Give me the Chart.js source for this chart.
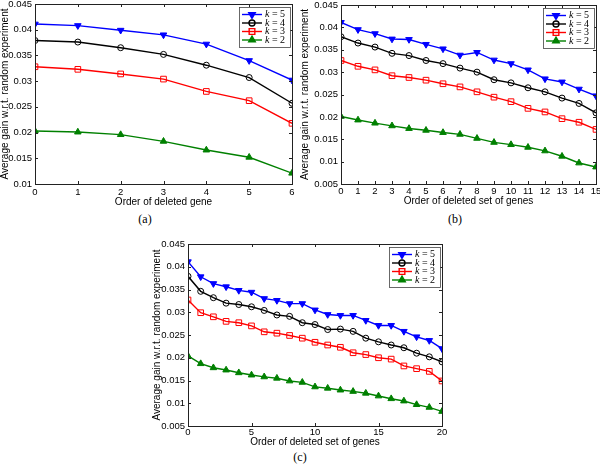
<!DOCTYPE html>
<html>
<head>
<meta charset="utf-8">
<script src="https://cdn.jsdelivr.net/npm/chart.js@4"></script>
<style>
  html, body { margin: 0; padding: 0; background: #fff; overflow: hidden; }
  body { width: 600px; height: 465px; position: relative; }
  canvas { position: absolute; }
  .cap { position: absolute; font-family: "Liberation Serif", serif; font-size: 12px; transform: translate(-50%, -50%); }
</style>
</head>
<body>
<canvas id="chartA" width="300" height="213" style="left:0;top:-6px"></canvas>
<canvas id="chartB" width="310" height="212" style="left:300px;top:-6px"></canvas>
<canvas id="chartC" width="310" height="217" style="left:140px;top:230px"></canvas>
<div class="cap" style="left:145px;top:219px">(a)</div>
<div class="cap" style="left:455px;top:219px">(b)</div>
<div class="cap" style="left:300px;top:457px">(c)</div>
<script>
// ---- data ----
const seriesLabels = ["5", "4", "3", "2"];

const xA = [0, 1, 2, 3, 4, 5, 6];
const a5 = [0.0411, 0.0408, 0.0399, 0.0390, 0.0372, 0.0340, 0.0302];
const a4 = [0.0379, 0.0376, 0.0365, 0.0352, 0.0331, 0.0307, 0.0257];
const a3 = [0.0328, 0.0323, 0.0314, 0.0304, 0.0280, 0.0262, 0.0218];
const a2 = [0.0203, 0.0201, 0.0196, 0.0183, 0.0166, 0.0152, 0.0121];

const xB = [0, 1, 2, 3, 4, 5, 6, 7, 8, 9, 10, 11, 12, 13, 14, 15];
const b5 = [0.0411, 0.0395, 0.0386, 0.0374, 0.0373, 0.0362, 0.0352, 0.0338, 0.0344, 0.0327, 0.0319, 0.0305, 0.0285, 0.0278, 0.0262, 0.0247];
const b4 = [0.0379, 0.0365, 0.0356, 0.0342, 0.0337, 0.0326, 0.0319, 0.0309, 0.0300, 0.0283, 0.0276, 0.0265, 0.0256, 0.0242, 0.0230, 0.0209];
const b3 = [0.0326, 0.0313, 0.0305, 0.0292, 0.0288, 0.0282, 0.0274, 0.0267, 0.0256, 0.0244, 0.0234, 0.0219, 0.0211, 0.0196, 0.0188, 0.0172];
const b2 = [0.0201, 0.0193, 0.0186, 0.0180, 0.0174, 0.0170, 0.0165, 0.0161, 0.0152, 0.0143, 0.0138, 0.0132, 0.0124, 0.0112, 0.0097, 0.0088];

const xC = [0, 1, 2, 3, 4, 5, 6, 7, 8, 9, 10, 11, 12, 13, 14, 15, 16, 17, 18, 19, 20];
const c5 = [0.0411, 0.0378, 0.0363, 0.0356, 0.0348, 0.0344, 0.0330, 0.0326, 0.0319, 0.0319, 0.0305, 0.0295, 0.0293, 0.0293, 0.0282, 0.0271, 0.0271, 0.0258, 0.0246, 0.0238, 0.0220];
const c4 = [0.0379, 0.0346, 0.0332, 0.0320, 0.0317, 0.0312, 0.0304, 0.0294, 0.0291, 0.0277, 0.0273, 0.0262, 0.0263, 0.0258, 0.0243, 0.0235, 0.0228, 0.0222, 0.0210, 0.0202, 0.0191];
const c3 = [0.0327, 0.0299, 0.0290, 0.0280, 0.0277, 0.0270, 0.0257, 0.0254, 0.0249, 0.0243, 0.0234, 0.0228, 0.0223, 0.0211, 0.0207, 0.0200, 0.0197, 0.0182, 0.0176, 0.0170, 0.0149];
const c2 = [0.0204, 0.0187, 0.0178, 0.0173, 0.0167, 0.0162, 0.0158, 0.0155, 0.0149, 0.0146, 0.0136, 0.0133, 0.0129, 0.0126, 0.0122, 0.0116, 0.0110, 0.0105, 0.0097, 0.0091, 0.0082];

// ---- styles ----
const SANS = "'Liberation Sans', Arial, sans-serif";
const SERIF = "'Liberation Serif', 'Times New Roman', serif";
const markerStyle = [
    { color: "#0000ff", point: "triangle", rot: 180, fill: "#0000ff", r: 3.8 },
    { color: "#000000", point: "circle", rot: 0, fill: "rgba(0,0,0,0)", r: 3 },
    { color: "#ff0000", point: "rect", rot: 0, fill: "rgba(0,0,0,0)", r: 4 },
    { color: "#008000", point: "triangle", rot: 0, fill: "#008000", r: 3.8 }
];

// axes box + inward ticks (MATLAB look)
const boxPlugin = {
    id: "box",
    afterDatasetsDraw(chart) {
        const { ctx, chartArea: a, scales } = chart;
        ctx.save();
        ctx.strokeStyle = "#222";
        ctx.lineWidth = 1;
        ctx.strokeRect(a.left + 0.5, a.top + 0.5, a.right - a.left, a.bottom - a.top);
        ctx.beginPath();
        scales.x.ticks.forEach((t, i) => {
            const px = Math.round(scales.x.getPixelForTick(i)) + 0.5;
            ctx.moveTo(px, a.bottom); ctx.lineTo(px, a.bottom - 3);
            ctx.moveTo(px, a.top); ctx.lineTo(px, a.top + 3);
        });
        scales.y.ticks.forEach((t, i) => {
            const py = Math.round(scales.y.getPixelForTick(i)) + 0.5;
            ctx.moveTo(a.left, py); ctx.lineTo(a.left + 3, py);
            ctx.moveTo(a.right, py); ctx.lineTo(a.right - 3, py);
        });
        ctx.stroke();
        ctx.restore();
    }
};

// legend box in upper right of plot
const legendPlugin = {
    id: "boxLegend",
    afterDraw(chart) {
        const { ctx, chartArea: a } = chart;
        const w = 51, h = 40;
        const x0 = a.right - 2 - w, y0 = a.top + 3;
        ctx.save();
        ctx.fillStyle = "#fff";
        ctx.fillRect(x0, y0, w, h);
        ctx.strokeStyle = "#444";
        ctx.lineWidth = 0.8;
        ctx.strokeRect(x0 + 0.5, y0 + 0.5, w, h);
        chart.data.datasets.forEach((ds, i) => {
            const y = y0 + 7.5 + i * 8.5;
            ctx.strokeStyle = ds.borderColor;
            ctx.lineWidth = 1.4;
            ctx.beginPath();
            ctx.moveTo(x0 + 3, y); ctx.lineTo(x0 + 23, y);
            ctx.stroke();
            ctx.fillStyle = ds.pointBackgroundColor;
            Chart.helpers.drawPoint(ctx, {
                pointStyle: ds.pointStyle, rotation: ds.pointRotation,
                radius: ds.pointRadius, borderWidth: 1
            }, x0 + 13, y);
            ctx.fillStyle = "#000";
            ctx.textBaseline = "middle";
            ctx.font = "italic 10px " + SERIF;
            ctx.fillText("k", x0 + 26, y);
            const kw = ctx.measureText("k").width;
            ctx.font = "10px " + SERIF;
            ctx.fillText(" = " + ds.label, x0 + 26 + kw, y);
        });
        ctx.restore();
    }
};

function makePanel(id, xs, ys, opt) {
    const datasets = ys.map((vals, i) => {
        const m = markerStyle[i];
        return {
            label: seriesLabels[i],
            data: vals.map((v, j) => ({ x: xs[j], y: v })),
            borderColor: m.color,
            backgroundColor: m.color,
            pointBackgroundColor: m.fill,
            pointBorderColor: m.color,
            pointStyle: m.point,
            pointRotation: m.rot,
            pointRadius: m.r,
            pointBorderWidth: 1,
            borderWidth: 1.4,
            tension: 0
        };
    });
    return new Chart(document.getElementById(id), {
        type: "line",
        data: { datasets },
        options: {
            responsive: false,
            animation: false,
            devicePixelRatio: 1,
            layout: { padding: { left: opt.padLeft, right: opt.padRight, top: opt.padTop, bottom: 0 } },
            plugins: { legend: { display: false }, tooltip: { enabled: false } },
            scales: {
                x: {
                    type: "linear",
                    min: 0, max: xs[xs.length - 1],
                    grid: { display: false, drawTicks: false },
                    border: { display: false },
                    ticks: { stepSize: opt.xStep, padding: opt.xTickPad, color: "#000", font: { family: SANS, size: 9.5 } },
                    title: { display: true, text: opt.xTitle, color: "#000", padding: 0, font: { family: SANS, size: 10, lineHeight: 1 } },
                    afterFit(s) { s.height = opt.xHeight; }
                },
                y: {
                    min: opt.yMin, max: 0.045,
                    grid: { display: false, drawTicks: false },
                    border: { display: false },
                    ticks: {
                        stepSize: 0.005, padding: 3, color: "#000", font: { family: SANS, size: 9.5 },
                        callback: v => String(+v.toFixed(4))
                    },
                    title: { display: true, text: "Average gain w.r.t. random experiment", color: "#000", padding: 0, font: { family: SANS, size: 10, lineHeight: 1 } },
                    afterFit(s) { s.width = opt.yWidth; }
                }
            }
        },
        plugins: [boxPlugin, legendPlugin]
    });
}

makePanel("chartA", xA, [a5, a4, a3, a2], {
    padLeft: 0, padRight: 8, padTop: 10, yWidth: 35, xHeight: 23, xTickPad: 3,
    xStep: 1, yMin: 0.01, xTitle: "Order of deleted gene"
});
makePanel("chartB", xB, [b5, b4, b3, b2], {
    padLeft: 0, padRight: 14, padTop: 11, yWidth: 41, xHeight: 22, xTickPad: 2,
    xStep: 1, yMin: 0.005, xTitle: "Order of deleted set of genes"
});
makePanel("chartC", xC, [c5, c4, c3, c2], {
    padLeft: 12, padRight: 8, padTop: 14, yWidth: 36, xHeight: 21, xTickPad: 1,
    xStep: 5, yMin: 0.005, xTitle: "Order of deleted set of genes"
});
</script>
</body>
</html>
